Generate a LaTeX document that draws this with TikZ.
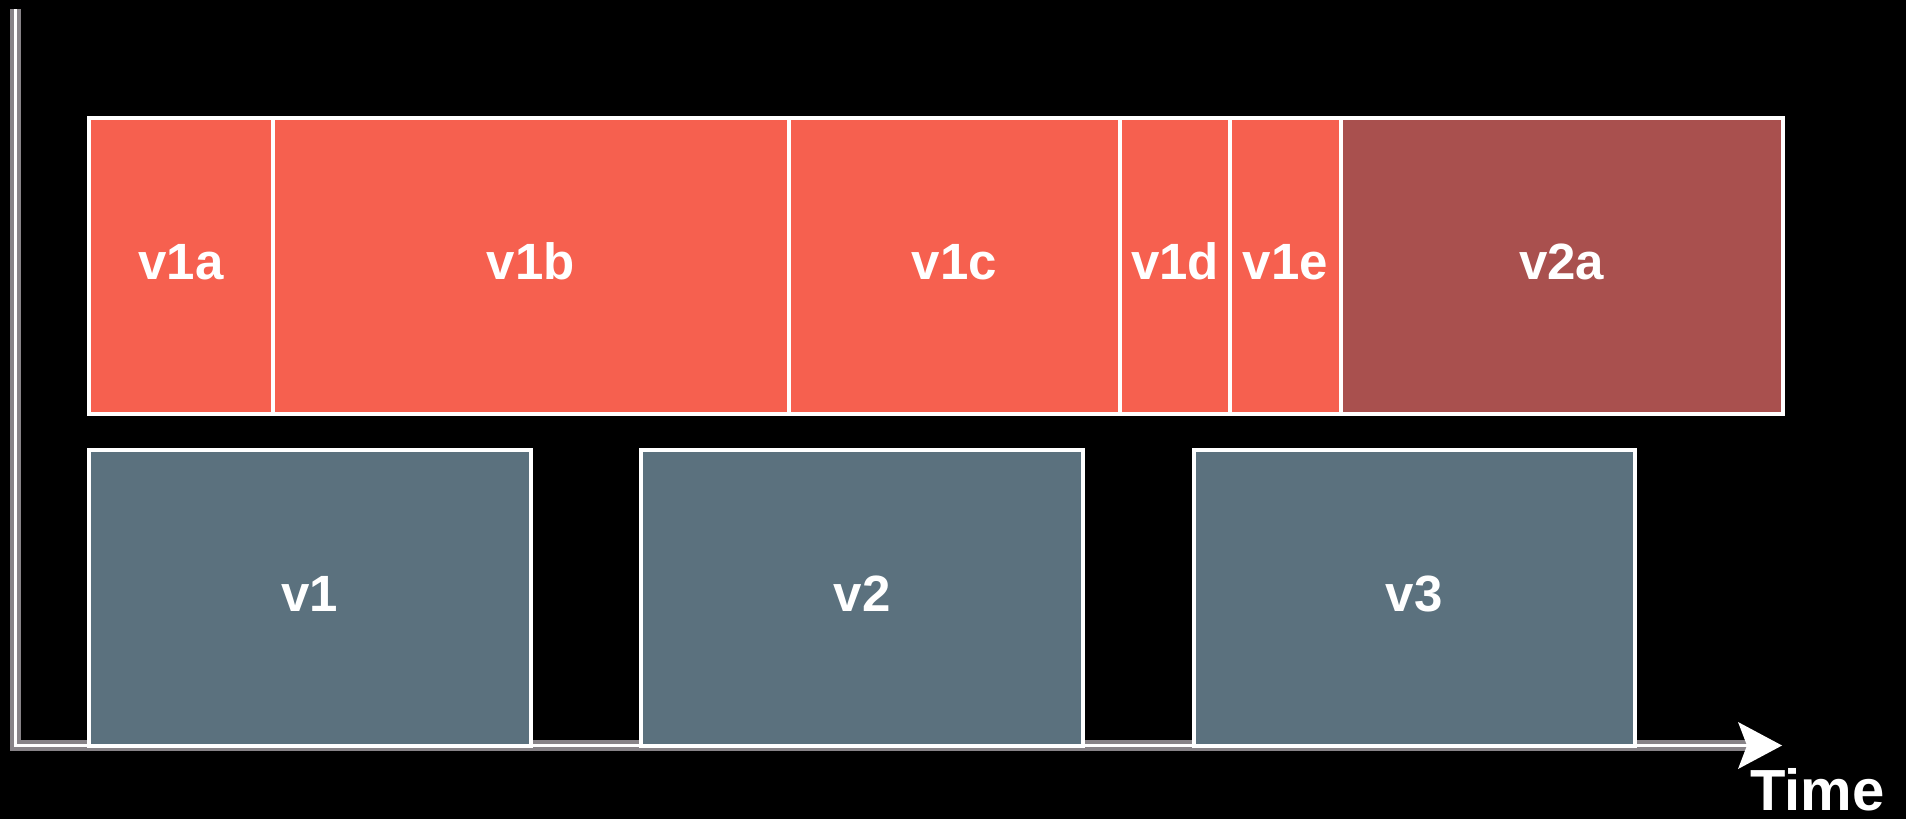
\documentclass[tikz,border=0pt]{standalone}
\usepackage{fontspec}
\setmainfont{Liberation Sans}
\definecolor{segred}{HTML}{F6604F}
\definecolor{segdark}{HTML}{A9504E}
\definecolor{seggrey}{HTML}{5B717E}
\definecolor{axisgrey}{HTML}{878387}
\tikzset{
  seg/.style={draw=white, line width=4pt, inner sep=0pt, outer sep=0pt,
    text=white, font=\bfseries\fontsize{51}{51}\selectfont,
    text height=36.5pt, text depth=10pt},
  toprow/.style={seg, minimum height=295.5pt},
  botrow/.style={seg, fill=seggrey, minimum height=295.5pt},
  axishalo/.style={draw=axisgrey, line width=11pt},
  axiscore/.style={draw=white, line width=3pt}
}
\begin{document}
\begin{tikzpicture}[x=1pt, y=-1pt]
  \fill[black] (0,0) rectangle (1906,819);
  \useasboundingbox (0,0) rectangle (1906,819);

  % time axis
  \coordinate (top) at (15.5,9);
  \coordinate (origin) at (15.5,745.5);
  \coordinate (end) at (1747,745.5);
  \draw[axishalo] (top) -- (origin) -- (end);
  \draw[axiscore] (top) -- (origin) -- (end);
  \fill[white] (1782,745.5) -- (1738,722) -- (1747,745.5) -- (1738,769) -- cycle;
  \node[anchor=base west, inner sep=0pt, text=white,
        font=\bfseries\fontsize{58}{58}\selectfont] (time) at (1750,810) {Time};

  % upper row: sub-segments
  \node[toprow, fill=segred,  minimum width=184pt]   (v1a) at (181,265.75)     {v1a};
  \node[toprow, fill=segred,  minimum width=515.5pt] (v1b) at (530.75,265.75)  {v1b};
  \node[toprow, fill=segred,  minimum width=331.5pt] (v1c) at (954.25,265.75)  {v1c};
  \node[toprow, fill=segred,  minimum width=110pt]   (v1d) at (1175,265.75)    {v1d};
  \node[toprow, fill=segred,  minimum width=111pt]   (v1e) at (1285.5,265.75)  {v1e};
  \node[toprow, fill=segdark, minimum width=441.5pt] (v2a) at (1561.75,265.75) {v2a};

  % lower row: whole segments
  \node[botrow, minimum width=442pt] (v1) at (310,597.75)  {v1};
  \node[botrow, minimum width=442pt] (v2) at (862,597.75)  {v2};
  \node[botrow, minimum width=441pt] (v3) at (1414,597.75) {v3};
\end{tikzpicture}
\end{document}
